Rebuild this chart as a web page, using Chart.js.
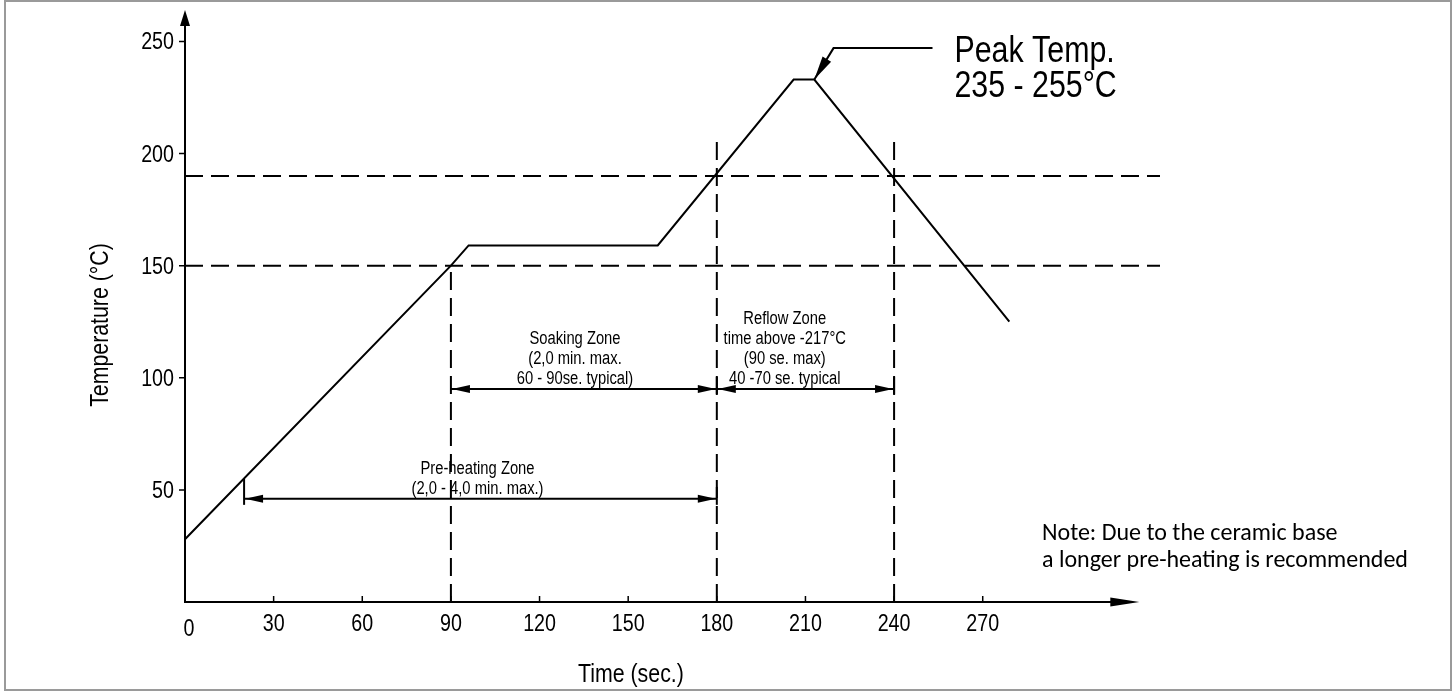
<!DOCTYPE html>
<html>
<head>
<meta charset="utf-8">
<script src="https://cdn.jsdelivr.net/npm/chart.js@4"></script>
<style>
  html, body { margin: 0; padding: 0; background: #fff; }
</style>
</head>
<body>
<canvas id="my-chart" width="1456" height="692"></canvas>
<script>
// reflow profile (sec / °C)
const profileTime = [0, 90, 96, 160, 206, 213, 279];
const profileTemp = [28, 150, 159, 159, 233, 233, 125];

// dashed guide lines
const limitTemps = [150, 190];
const zoneTimes = [90, 180, 240];
const zoneTopTemps = [150, 206, 206];

// axis ticks
const xTickValues = [0, 30, 60, 90, 120, 150, 180, 210, 240, 270];
const yTickValues = [50, 100, 150, 200, 250];
const xMax = 330;
const yMax = 264;
const xArrowEnd = 323;

// zone dimension arrows
const zoneFrom = [20, 90, 180];
const zoneTo = [180, 180, 240];
const zoneTemp = [46, 95, 95];
const zoneLabelTime = [99, 132, 203];
const zoneLabels = [
  ['Pre-heating Zone', '(2,0 - 4,0 min. max.)'],
  ['Soaking Zone', '(2,0 min. max.', '60 - 90se. typical)'],
  ['Reflow Zone', 'time above -217°C', '(90 se. max)', '40 -70 se. typical']
];

// peak callout (sec / °C)
const peakLeaderTime = [213, 219.5, 253];
const peakLeaderTemp = [233, 247, 247];
const peakLabel = ['Peak Temp.', '235 - 255°C'];

const noteLabel = ['Note: Due to the ceramic base', 'a longer pre-heating is recommended'];

const SANS = '"Liberation Sans", Arial, sans-serif';
const NOTE_FONT = 'Carlito, Calibri, Lato, sans-serif';
const NARROW_SCALE = 0.82; // no Arial Narrow here, squeeze Liberation Sans instead

function narrowText(ctx, text, x, y, size, align) {
  ctx.save();
  ctx.font = size + 'px ' + SANS;
  ctx.textAlign = align || 'left';
  ctx.textBaseline = 'alphabetic';
  ctx.translate(x, y);
  ctx.scale(NARROW_SCALE, 1);
  ctx.fillText(text, 0, 0);
  ctx.restore();
}

function arrowHead(ctx, tx, ty, dx, dy, len, half) {
  const bx = tx - dx * len, by = ty - dy * len;
  ctx.beginPath();
  ctx.moveTo(tx, ty);
  ctx.lineTo(bx - dy * half, by + dx * half);
  ctx.lineTo(bx + dy * half, by - dx * half);
  ctx.closePath();
  ctx.fill();
}

const sketchPlugin = {
  id: 'sketch',
  afterDraw(chart) {
    const { ctx } = chart;
    const xs = chart.scales.x, ys = chart.scales.y;
    const px = v => xs.getPixelForValue(v);
    const py = v => ys.getPixelForValue(v);
    ctx.save();
    ctx.strokeStyle = '#000';
    ctx.fillStyle = '#000';
    ctx.lineCap = 'butt';

    // axes with arrows
    ctx.lineWidth = 2;
    ctx.beginPath();
    ctx.moveTo(px(0), py(yMax) + 12);
    ctx.lineTo(px(0), py(0));
    ctx.lineTo(px(xArrowEnd) - 20, py(0));
    ctx.stroke();
    arrowHead(ctx, px(0), py(yMax), 0, -1, 16, 5);
    arrowHead(ctx, px(xArrowEnd), py(0), 1, 0, 29, 4.5);

    // tick marks and tick labels from the scales' ticks
    ctx.lineWidth = 1.5;
    ctx.beginPath();
    xs.ticks.forEach(t => { if (t.value > 0) { ctx.moveTo(px(t.value), py(0)); ctx.lineTo(px(t.value), py(0) - 6); } });
    ys.ticks.forEach(t => { ctx.moveTo(px(0), py(t.value)); ctx.lineTo(px(0) - 6, py(t.value)); });
    ctx.stroke();
    xs.ticks.forEach(t => {
      const first = t.value === 0;
      narrowText(ctx, String(t.value), px(t.value) + (first ? 4 : 0), py(0) + (first ? 34 : 29), 24, 'center');
    });
    ys.ticks.forEach(t => {
      narrowText(ctx, String(t.value), px(0) - 11, py(t.value) + 8, 24, 'right');
    });

    // zone dimension arrows
    ctx.lineWidth = 2;
    zoneFrom.forEach((f, i) => {
      const y = py(zoneTemp[i]);
      ctx.beginPath();
      ctx.moveTo(px(f), y);
      ctx.lineTo(px(zoneTo[i]), y);
      ctx.stroke();
      arrowHead(ctx, px(f) + 1, y, -1, 0, 18, 4);
      arrowHead(ctx, px(zoneTo[i]) - 1, y, 1, 0, 18, 4);
      ctx.beginPath();
      ctx.moveTo(px(zoneTo[i]), y - 12);
      ctx.lineTo(px(zoneTo[i]), y + 6);
      ctx.stroke();
    });
    // pre-heating start bar, from the curve down past the arrow
    const startTemp = profileTemp[0] + (profileTemp[1] - profileTemp[0]) * zoneFrom[0] / profileTime[1];
    ctx.beginPath();
    ctx.moveTo(px(zoneFrom[0]), py(startTemp));
    ctx.lineTo(px(zoneFrom[0]), py(zoneTemp[0]) + 6);
    ctx.stroke();

    // zone texts
    zoneLabels.forEach((lines, i) => {
      const base = py(zoneTemp[i]) - 5;
      lines.forEach((t, k) => {
        narrowText(ctx, t, px(zoneLabelTime[i]), base - (lines.length - 1 - k) * 20, 18, 'center');
      });
    });

    // peak callout
    ctx.lineWidth = 2;
    ctx.beginPath();
    ctx.moveTo(px(peakLeaderTime[2]), py(peakLeaderTemp[2]));
    ctx.lineTo(px(peakLeaderTime[1]), py(peakLeaderTemp[1]));
    ctx.lineTo(px(peakLeaderTime[0]), py(peakLeaderTemp[0]));
    ctx.stroke();
    {
      const dx = px(peakLeaderTime[0]) - px(peakLeaderTime[1]);
      const dy = py(peakLeaderTemp[0]) - py(peakLeaderTemp[1]);
      const d = Math.hypot(dx, dy);
      arrowHead(ctx, px(peakLeaderTime[0]), py(peakLeaderTemp[0]), dx / d, dy / d, 24, 5);
    }
    narrowText(ctx, peakLabel[0], px(peakLeaderTime[2]) + 22, py(peakLeaderTemp[2]) + 14, 37);
    narrowText(ctx, peakLabel[1], px(peakLeaderTime[2]) + 22, py(peakLeaderTemp[2]) + 49, 37);

    // note
    ctx.font = '24px ' + NOTE_FONT;
    ctx.textAlign = 'left';
    ctx.fillText(noteLabel[0], 1042, 540);
    ctx.fillText(noteLabel[1], 1042, 567);

    // axis titles
    narrowText(ctx, 'Time (sec.)', 578, 682, 26);
    ctx.save();
    ctx.translate(108, 325);
    ctx.rotate(-Math.PI / 2);
    narrowText(ctx, 'Temperature (°C)', 0, 0, 26, 'center');
    ctx.restore();

    // frame
    ctx.strokeStyle = '#9a9a9a';
    ctx.lineWidth = 2;
    ctx.strokeRect(5, 1, 1446, 689);
    ctx.restore();
  }
};

const dashed = { borderColor: '#000', borderWidth: 2, borderDash: [18, 8], pointRadius: 0, fill: false, tension: 0 };
const guideSets = [
  ...limitTemps.map(t => ({ ...dashed, data: [{ x: 0, y: t }, { x: xMax, y: t }] })),
  ...zoneTimes.map((t, i) => ({ ...dashed, data: [{ x: t, y: 0 }, { x: t, y: zoneTopTemps[i] }] }))
];

const ctx = document.getElementById('my-chart').getContext('2d');
new Chart(ctx, {
  type: 'line',
  data: {
    datasets: [
      {
        label: 'Reflow profile',
        data: profileTime.map((t, i) => ({ x: t, y: profileTemp[i] })),
        borderColor: '#000',
        borderWidth: 2,
        pointRadius: 0,
        fill: false,
        tension: 0
      },
      ...guideSets
    ]
  },
  options: {
    responsive: false,
    animation: false,
    devicePixelRatio: 1,
    layout: { padding: { left: 0, right: 296, top: 10, bottom: 0 } },
    plugins: { legend: { display: false }, tooltip: { enabled: false } },
    scales: {
      x: {
        type: 'linear', min: 0, max: xMax,
        grid: { display: false, drawTicks: false },
        border: { display: false },
        afterFit: s => { s.height = 90; },
        afterBuildTicks: s => { s.ticks = xTickValues.map(v => ({ value: v })); },
        ticks: { display: false }
      },
      y: {
        type: 'linear', min: 0, max: yMax,
        grid: { display: false, drawTicks: false },
        border: { display: false },
        afterFit: s => { s.width = 185; },
        afterBuildTicks: s => { s.ticks = yTickValues.map(v => ({ value: v })); },
        ticks: { display: false }
      }
    }
  },
  plugins: [sketchPlugin]
});
</script>
</body>
</html>
